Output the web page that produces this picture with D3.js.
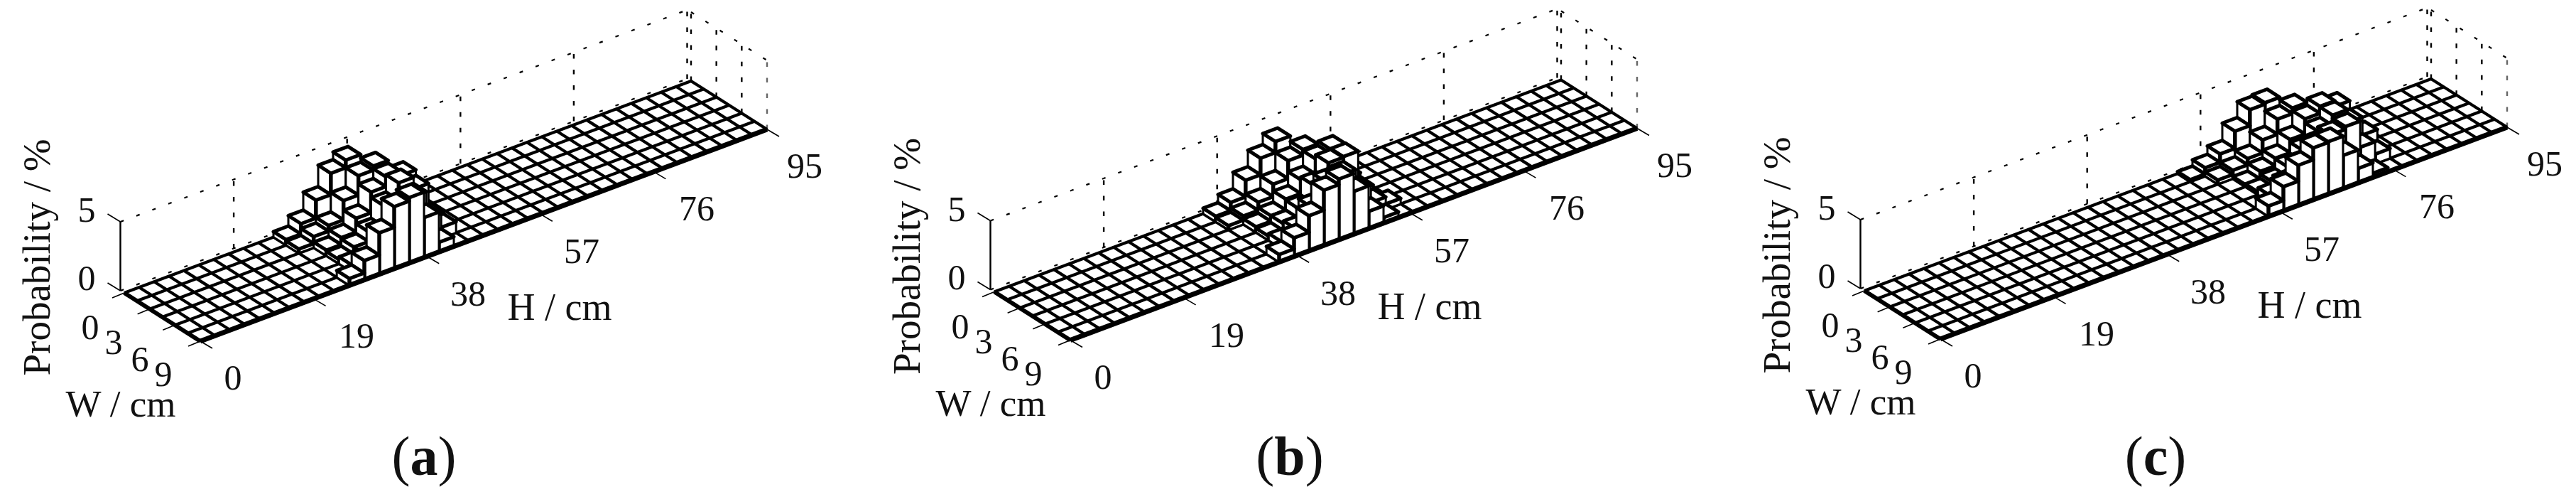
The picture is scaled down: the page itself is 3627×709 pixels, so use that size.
<!DOCTYPE html>
<html><head><meta charset="utf-8">
<script src="https://cdnjs.cloudflare.com/ajax/libs/d3/7.8.5/d3.min.js"></script>
<style>html,body{margin:0;padding:0;background:#fff}svg{display:block}text{font-family:"Liberation Serif",serif;fill:#111}</style>
</head><body><svg id="c" width="3627" height="709"></svg>
<script>
const hTicks=[0,19,38,57,76,95], wTicks=[0,3,6,9], zTicks=[0,5];
const hBins=38, wBins=6, hBinWidth=2.5, wBinWidth=1.5;
// Probability (%) per W row (index 0 = W 0-1.5 cm); first value of each row is at H bin `start`
const startA=10;
const probA=[
 [.4,1.15,2.45,4.0,4.55,2.5,0,0],
 [.3,.8,1.2,2.6,4.0,4.3,3.0,0],
 [0,.4,.9,1.9,3.4,4.1,3.8,1.0],
 [0,.3,.8,1.5,3.0,4.25,3.4,1.0],
 [0,.5,.8,2.0,3.5,3.8,1.8,.8],
 [.5,1.4,3.0,4.5,4.75,2.9,.7,0]];
const startB=14;
const probB=[
 [.4,1.0,2.2,3.4,4.2,2.0,0,0,0],
 [.3,.6,1.2,2.1,3.4,3.8,2.5,0,0],
 [0,.4,.8,1.6,2.6,3.7,4.0,1.5,0],
 [0,.3,.8,1.5,2.8,4.0,4.05,1.2,0],
 [0,.5,1.0,2.2,3.6,3.7,2.2,.9,.4],
 [.55,1.35,2.55,4.0,4.4,3.1,1.25,.4,0]];
const startC=21;
const probC=[
 [.15,.6,1.2,2.45,3.6,3.7,1.5,0,0,0],
 [0,.3,.6,1.05,2.0,3.1,3.5,2.0,0,0],
 [0,0,.15,.7,1.25,2.2,3.3,3.8,3.4,.6],
 [0,0,.2,.5,1.2,2.0,3.0,3.75,2.8,1.5],
 [0,0,.5,1.0,2.0,3.0,3.3,3.5,1.6,.7],
 [0,.75,1.75,2.9,3.75,3.8,2.4,1.05,.3,0]];
const panels=[
 {key:"a",start:startA,prob:probA,dx:0,dy:0,hLabelDx:0},
 {key:"b",start:startB,prob:probB,dx:1225,dy:-1.5,hLabelDx:0},
 {key:"c",start:startC,prob:probC,dx:2450,dy:-3,hLabelDx:14}];

const hMax=hBins*hBinWidth, wMax=wBins*wBinWidth;
const hx=d3.scaleLinear([0,hMax],[0,798]), hy=d3.scaleLinear([0,hMax],[0,-298]);
const wx=d3.scaleLinear([0,wMax],[0,107]), wy=d3.scaleLinear([0,wMax],[0,68]);
const zy=d3.scaleLinear([0,5],[0,-97]);
const svg=d3.select("#c");
const line=d3.line();

panels.forEach(p=>{
  const ox=175+p.dx, oy=412+p.dy;
  const P=(h,w,z=0)=>[ox+hx(h)+wx(w), oy+hy(h)+wy(w)+zy(z)];
  const Wall=(h,z)=>{const q=P(h,0,z);return [q[0]-5.5,q[1]-3];};
  const g=svg.append("g");
  const seg=(a,b,sw,dash,col)=>g.append("path").attr("d",line([a,b])).attr("fill","none")
    .attr("stroke",col||"#000").attr("stroke-width",sw).attr("stroke-dasharray",dash||null);

  // walls: dotted guides
  const dotT="5 19", dotV="6.5 15.5";
  seg(Wall(0,5),Wall(hMax,5),2.2,dotT);
  seg(Wall(0,0),Wall(hMax,0),2.2,dotT);
  seg(P(hMax,0,5),P(hMax,wMax,5),2.2,dotT);
  hTicks.slice(1).forEach(h=>seg(Wall(h,0),Wall(h,5),2.4,dotV));
  wTicks.forEach(w=>seg(P(hMax,w,0),P(hMax,w,5),2.4,dotV,w===9?"#666":"#000"));
  // z axis
  seg(Wall(0,0),Wall(0,5),2.4);
  zTicks.forEach(z=>{const q=Wall(0,z);seg(q,[q[0]-18,q[1]-11],1.6);});
  // floor grid
  d3.range(hBins+1).forEach(i=>seg(P(i*hBinWidth,0),P(i*hBinWidth,wMax),4.2));
  d3.range(wBins+1).forEach(j=>seg(P(0,j*wBinWidth),P(hMax,j*wBinWidth),4.2));
  // ticks
  hTicks.forEach(h=>{const q=P(h,wMax);seg(q,[q[0]+17,q[1]+10],1.6);});
  wTicks.forEach(w=>{const q=P(0,w);seg(q,[q[0]-17,q[1]+7],1.6);});
  // bars, back to front
  p.prob.forEach((row,j)=>{
    const w0=j*wBinWidth,w1=(j+1)*wBinWidth;
    for(let k=row.length-1;k>=0;k--){
      const z=row[k]; if(!z) continue;
      const i=p.start+k, h0=i*hBinWidth, h1=(i+1)*hBinWidth;
      const poly=(pts,sw)=>g.append("path").attr("d",line(pts)+"Z").attr("fill","#fff")
        .attr("stroke","#000").attr("stroke-width",sw).attr("stroke-linejoin","round");
      poly([P(h0,w0,0),P(h0,w1,0),P(h0,w1,z),P(h0,w0,z)],3);
      poly([P(h0,w1,0),P(h1,w1,0),P(h1,w1,z),P(h0,w1,z)],3);
      poly([P(h0,w0,z),P(h1,w0,z),P(h1,w1,z),P(h0,w1,z)],5);
      seg(P(h0,w1,0),P(h0,w1,z),5.5);
    }
  });
  // heavy front and left edges
  seg(P(0,wMax),P(hMax,wMax),7);
  seg(P(0,0),P(0,wMax),6);

  // tick labels
  const txt=(s,x,y,fs)=>g.append("text").attr("x",x+p.dx).attr("y",y+p.dy)
     .attr("font-size",fs).attr("text-anchor","middle").text(s);
  const hLabelX=[328,502,659,819,981,1133], hLabelY=[548,489,430,370,310,250];
  hTicks.forEach((h,n)=>txt(h,hLabelX[n],hLabelY[n],50));
  const wLabelX=[127,160,197,230], wLabelY=[477,498,522,543];
  wTicks.forEach((w,n)=>txt(w,wLabelX[n],wLabelY[n],50));
  const zLabelY=[408,312];
  zTicks.forEach((z,n)=>txt(z,122,zLabelY[n],50));
  txt("H / cm",788+p.hLabelDx,450,54);
  txt("W / cm",170,586,53);
  g.append("text").attr("transform",`translate(${70+p.dx},${362+p.dy}) rotate(-90)`)
    .attr("text-anchor","middle").attr("font-size",55).text("Probability / %");
  // panel label
  const cap=g.append("text").attr("x",597+p.dx+(p.key==="a"?0:p.key==="b"?-6:-12)).attr("y",668)
    .attr("text-anchor","middle").attr("font-size",78);
  cap.append("tspan").text("(");
  cap.append("tspan").attr("font-weight","bold").text(p.key);
  cap.append("tspan").text(")");
});
</script></body></html>
